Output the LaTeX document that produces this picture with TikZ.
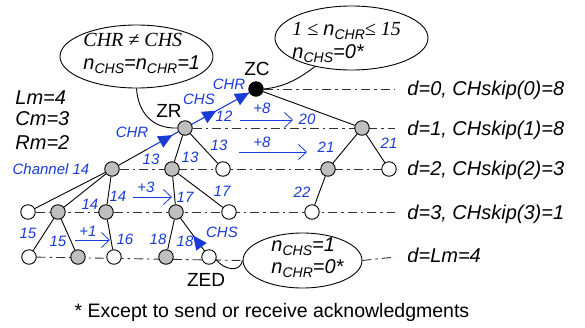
\documentclass[tikz,border=0pt]{standalone}
\usepackage{fontspec}
\setmainfont{Liberation Sans}
\newfontfamily\tnr{Liberation Serif}
\usetikzlibrary{shapes.geometric,arrows.meta,decorations.markings,backgrounds,calc}
\definecolor{myblue}{RGB}{25,60,215}
\definecolor{ngray}{RGB}{191,191,191}
\newcommand\sbx[1]{\raisebox{-0.22em}{\fontsize{14}{14}\selectfont #1}}
\begin{document}
\begin{tikzpicture}[x=1pt,y=-1pt,line width=0.9pt,
  nd/.style={circle,draw,minimum size=14.5pt,inner sep=0pt},
  gn/.style={nd,fill=ngray},
  wn/.style={nd,fill=white},
  bn/.style={nd,fill=black},
  dd/.style={draw=black!80,line width=0.9pt,dash pattern=on 9pt off 4pt on 2.5pt off 4pt},
  lbl/.style={font=\fontsize{20}{24}\selectfont\itshape,anchor=base west,inner sep=0pt},
  bl/.style={font=\fontsize{15}{18}\selectfont\itshape,text=myblue,anchor=base,inner sep=0pt},
  big/.style={font=\fontsize{19}{22}\selectfont,anchor=base,inner sep=0pt},
  op/.style={myblue,line width=0.8pt,-{Straight Barb[length=8pt,width=15pt]}},
  ell/.style={ellipse,draw,line width=0.9pt,inner sep=0pt},
  barrow/.style={postaction={decorate},decoration={markings,
     mark=at position #1 with {\fill[myblue] (0pt,0pt) -- (-14pt,6.5pt) -- (-14pt,-6.5pt) -- cycle;}}},
  barrowtwo/.style 2 args={postaction={decorate},decoration={markings,
     mark=at position #1 with {\fill[myblue] (0pt,0pt) -- (-14pt,6.5pt) -- (-14pt,-6.5pt) -- cycle;},
     mark=at position #2 with {\fill[myblue] (0pt,0pt) -- (-14pt,6.5pt) -- (-14pt,-6.5pt) -- cycle;}}}
]
\useasboundingbox (0,0) rectangle (585,327);

% tree nodes
\node[bn] (ZC) at (256,89) {};
\node[gn] (ZR) at (185,128) {};
\node[gn] (R1) at (362,128) {};
\node[gn] (A) at (112,169) {};
\node[gn] (B) at (172,169) {};
\node[wn] (C) at (223,169) {};
\node[gn] (D) at (328,169) {};
\node[wn] (E) at (389,169) {};
\node[wn] (F) at (28,212) {};
\node[gn] (G) at (58,212) {};
\node[gn] (H) at (106,212) {};
\node[gn] (I) at (176,212) {};
\node[wn] (J) at (229,212) {};
\node[wn] (K) at (312,212) {};
\node[wn] (L) at (29,257) {};
\node[gn] (M) at (78,257) {};
\node[wn] (N) at (114,257) {};
\node[gn] (O) at (166,257) {};
\node[wn] (ZED) at (209,257) {};

% ellipses
\node[ell,minimum width=153pt,minimum height=63pt] (el1) at (136.5,56.5) {};
\node[ell,minimum width=153pt,minimum height=64pt] (el2) at (351.5,38) {};
\node[ell,minimum width=119pt,minimum height=55pt] (el3) at (302.5,260.5) {};

\coordinate (e0) at (395,89);
\coordinate (e1) at (395,128);
\coordinate (e2) at (395,169);
\coordinate (e3) at (395,212);
\coordinate (e4) at (395,257);
\coordinate (amid) at ($(A)!0.5!(ZR)$);

\begin{scope}[on background layer]
  \draw[dd] (ZC) -- (e0);
  \draw[dd] (ZR) -- (e1);
  \draw[dd] (A) -- (e2);
  \draw[dd] (F) -- (e3);
  \draw[dd] (L) -- (el3.west);
  \draw[dd] (el3.east) -- (e4);
\end{scope}

% edges
\draw (ZC) -- (R1);
\draw[myblue,line width=1.1pt,barrowtwo={0.43}{0.999}] (ZR) -- (ZC);
\draw (A) -- (amid);
\draw[myblue,line width=1.1pt,barrow=0.8] (amid) -- (ZR);
\draw (ZR) -- (B);
\draw (ZR) -- (C);
\draw (A) -- (F);
\draw (A) -- (G);
\draw (A) -- (H);
\draw (B) -- (I);
\draw (B) -- (J);
\draw (R1) -- (D);
\draw (R1) -- (E);
\draw (D) -- (K);
\draw (G) -- (L);
\draw (G) -- (M);
\draw (H) -- (N);
\draw (I) -- (O);
\draw[barrow=0.47] (ZED) -- (I);

% ellipse connectors
\draw (el1.south) .. controls (138,112) and (152,129) .. (ZR.west);
\draw (ZC.east) .. controls (285,87) and (300,78) .. (el2.218);
\draw (ZED.-20) .. controls (224,270) and (240,273) .. (el3.west);

% ellipse texts
\node[anchor=base west,inner sep=0pt,font=\fontsize{20}{24}\selectfont\tnr\itshape] (t1a) at (83,46) {CHR ≠ CHS};
\node[lbl] (t1b) at (83,69) {n\sbx{CHS}=n\sbx{CHR}=1};
\node[lbl] (t2a) at (292,35) {{\tnr 1 ≤ }n\sbx{CHR}{\tnr ≤ 15}};
\node[lbl] (t2b) at (292,58) {n\sbx{CHS}=0*};
\node[lbl] (t3a) at (271,251) {n\sbx{CHS}=1};
\node[lbl] (t3b) at (271,273) {n\sbx{CHR}=0*};

% node names
\node[big] (lzc) at (257,75) {ZC};
\node[big] (lzr) at (169,117) {ZR};
\node[big] (lzed) at (206,286) {ZED};

% left params
\node[lbl] (lm) at (15,104) {Lm=4};
\node[lbl] (cm) at (15,125) {Cm=3};
\node[lbl] (rm) at (15,149) {Rm=2};

% right labels
\node[lbl] (d0) at (407,95) {d=0, CHskip(0)=8};
\node[lbl] (d1) at (407,135) {d=1, CHskip(1)=8};
\node[lbl] (d2) at (407,175) {d=2, CHskip(2)=3};
\node[lbl] (d3) at (407,219) {d=3, CHskip(3)=1};
\node[lbl] (d4) at (407,262) {d=Lm=4};

% blue labels
\node[bl] (b1) at (229,89.5) {CHR};
\node[bl] (b2) at (199,104.5) {CHS};
\node[bl] (b3) at (132,137.5) {CHR};
\node[bl] (b4) at (224,121.5) {12};
\node[bl] (b5) at (262,113.5) {+8};
\node[bl] (b6) at (307,124.5) {20};
\node[bl] (b7) at (262,147.5) {+8};
\node[bl] (b8) at (326,152.5) {21};
\node[bl] (b9) at (389,148.5) {21};
\node[bl] (b10) at (219,150.5) {13};
\node[bl] (b11) at (190,162.5) {13};
\node[bl] (b12) at (151,164.5) {13};
\node[bl] (b13) at (51,174.5) {Channel 14};
\node[bl] (b14) at (118,201.5) {14};
\node[bl] (b15) at (90,209.5) {14};
\node[bl] (b16) at (146,192.5) {+3};
\node[bl] (b17) at (185,202.5) {17};
\node[bl] (b18) at (222,196.5) {17};
\node[bl] (b19) at (302,197.5) {22};
\node[bl] (b20) at (28,238.5) {15};
\node[bl] (b21) at (58,246.5) {15};
\node[bl] (b22) at (88,236.5) {+1};
\node[bl] (b23) at (125,244.5) {16};
\node[bl] (b24) at (158,244.5) {18};
\node[bl] (b25) at (185,246.5) {18};
\node[bl] (b26) at (222,237.5) {CHS};

% open arrows
\coordinate (a1s) at (240,120); \coordinate (a1e) at (293,120);
\coordinate (a2s) at (239,152); \coordinate (a2e) at (307,152);
\coordinate (a3s) at (133,197); \coordinate (a3e) at (172,197);
\coordinate (a4s) at (75,240);  \coordinate (a4e) at (110,240);
\draw[op] (a1s) -- (a1e);
\draw[op] (a2s) -- (a2e);
\draw[op] (a3s) -- (a3e);
\draw[op] (a4s) -- (a4e);

% footnote
\node[anchor=base,inner sep=0pt,font=\fontsize{19.5}{22}\selectfont] (fn) at (272,317) {* Except to send or receive acknowledgments};
\end{tikzpicture}
\end{document}
